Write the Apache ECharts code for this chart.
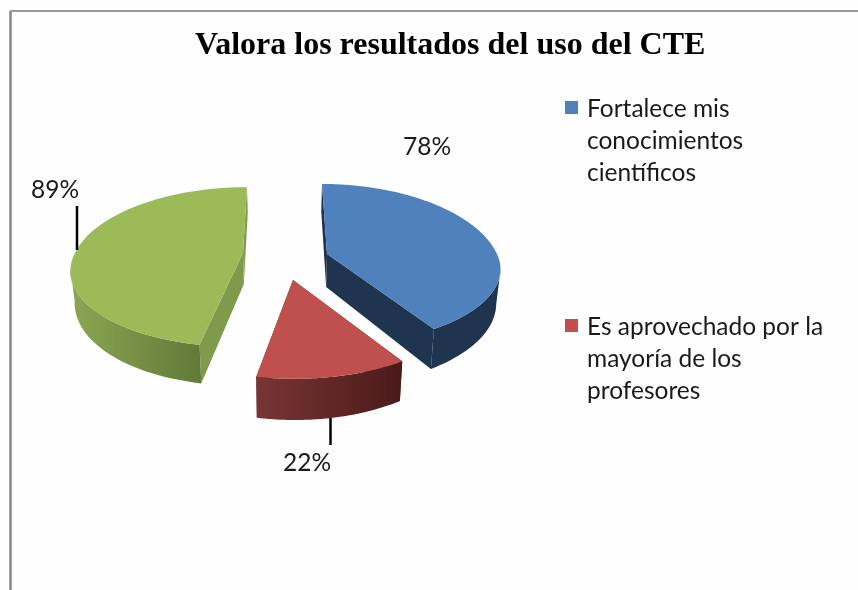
<!DOCTYPE html>
<html><head><meta charset="utf-8">
<style>html,body{margin:0;padding:0;background:#fff}#c{width:858px;height:590px}</style>
<script src="https://cdn.jsdelivr.net/npm/echarts@6/dist/echarts.min.js"></script>
</head><body><div id="c"></div>
<script>
const titleText = 'Valora los resultados del uso del CTE';
const categories = ['Fortalece mis\nconocimientos\ncientíficos', 'Es aprovechado por la\nmayoría de los\nprofesores', 'Otros'];
const values = [78, 22, 89];
const legendCategories = [categories[0], categories[1]];

const total = values.reduce((a, b) => a + b, 0);
const P = 0.2, VX = 285, VK = 0.02;
const looks = [
  {cx:327,cy:254,R:170,top:84,bot:73,lean:5,lean2:0,D:33,color:'#4f81bd',
   outer:['#1f344f','#1f344f'],cut:'#1f344f',
   label:[427,147],leader:null},
  {cx:293,cy:280,R:171,top:80,bot:79,lean:0,lean2:-2,D:33,color:'#c0504d',
   outer:['#793533','#4a1a1a'],cut:'#5a2322',
   label:[307,463],leader:[330.5,418,330.5,445]},
  {cx:243,cy:253,R:168,top:79,bot:75,lean:-4,lean2:5.5,D:31,color:'#9bbb59',
   outer:['#8ba653','#617a38'],cut:'#7f9a4a',
   label:[55,190],leader:[77,206,77,250]}
];
function pt(o, th, r, down) {
  const s = Math.sin(th), c = Math.cos(th), f = 1 / (1 + P * c * r);
  const Sy = c > 0 ? o.top : o.bot;
  let x = o.cx + r * o.R * s * f - (c > 0 ? o.lean * c * r : 0) + (c < 0 ? o.lean2 * c * r : 0);
  let y = o.cy - r * Sy * c * f;
  if (down) { y += o.D * f; x -= VK * (x - VX); }
  return [x, y];
}
function renderSlice(i) {
  return function () {
    const o = looks[i];
    const before = values.slice(0, i).reduce((a, b) => a + b, 0);
    const a0 = before / total * Math.PI * 2;
    const a1 = (before + values[i]) / total * Math.PI * 2;
    const rim = [];
    const N = 80;
    for (let k = 0; k <= N; k++) rim.push(a0 + (a1 - a0) * k / N);
    const topPts = [pt(o, 0, 0, false)].concat(rim.map(t => pt(o, t, 1, false)));
    const front = rim.filter(t => Math.cos(t) < -0.2);
    const outerPts = front.map(t => pt(o, t, 1, false))
      .concat(front.slice().reverse().map(t => pt(o, t, 1, true)));
    const edge = (t) => [pt(o, t, 0, false), pt(o, t, 1, false), pt(o, t, 1, true), pt(o, t, 0, true)];
    const ch = [];
    ch.push({type:'polygon',shape:{points:edge(a0)},style:{fill:o.cut}});
    ch.push({type:'polygon',shape:{points:edge(a1)},style:{fill:o.cut}});
    ch.push({type:'polygon',shape:{points:outerPts},style:{
      fill:new echarts.graphic.LinearGradient(0,0,1,0,[{offset:0,color:o.outer[0]},{offset:1,color:o.outer[1]}])}});
    ch.push({type:'polygon',shape:{points:topPts},style:{fill:o.color}});
    if (o.leader) ch.push({type:'line',shape:{x1:o.leader[0],y1:o.leader[1],x2:o.leader[2],y2:o.leader[3]},style:{stroke:'#000',lineWidth:2.5}});
    ch.push({type:'text',x:o.label[0],y:o.label[1],style:{text:values[i]+'%',font:'24.5px Lato',fill:'#1a1a1a',align:'center',verticalAlign:'middle'}});
    return {type:'group',children:ch};
  };
}
const icon = 'path://M0 0H0.01V0.01H0Z M0 8H13V21H0Z M0 96H0.01V95.99H0Z';
const chart = echarts.init(document.getElementById('c'), null, {renderer:'canvas'});
chart.setOption({
  animation:false,
  backgroundColor:'#fefefe',
  title:{text:titleText,left:190,top:25,textStyle:{fontFamily:'Liberation Serif',fontWeight:'bold',fontSize:32,color:'#000'}},
  legend:{data:legendCategories,orient:'vertical',left:560,top:88,itemGap:122,itemWidth:13,itemHeight:96,icon:icon,
    selectedMode:false,itemStyle:{borderWidth:0},
    textStyle:{fontFamily:'Lato',fontSize:24.5,lineHeight:32,color:'#1a1a1a',padding:[0,0,0,4]}},
  graphic:[
    {type:'line',silent:true,shape:{x1:10.5,y1:11,x2:10.5,y2:590},style:{stroke:'#868686',lineWidth:2.5}},
    {type:'line',silent:true,shape:{x1:10,y1:11,x2:858,y2:11},style:{stroke:'#9a9a9a',lineWidth:2}}
  ],
  series:categories.map((name,i)=>({
    type:'custom',name:name,coordinateSystem:'none',silent:true,
    itemStyle:{color:looks[i].color},
    data:[[values[i]]],renderItem:renderSlice(i)
  }))
});
</script></body></html>
